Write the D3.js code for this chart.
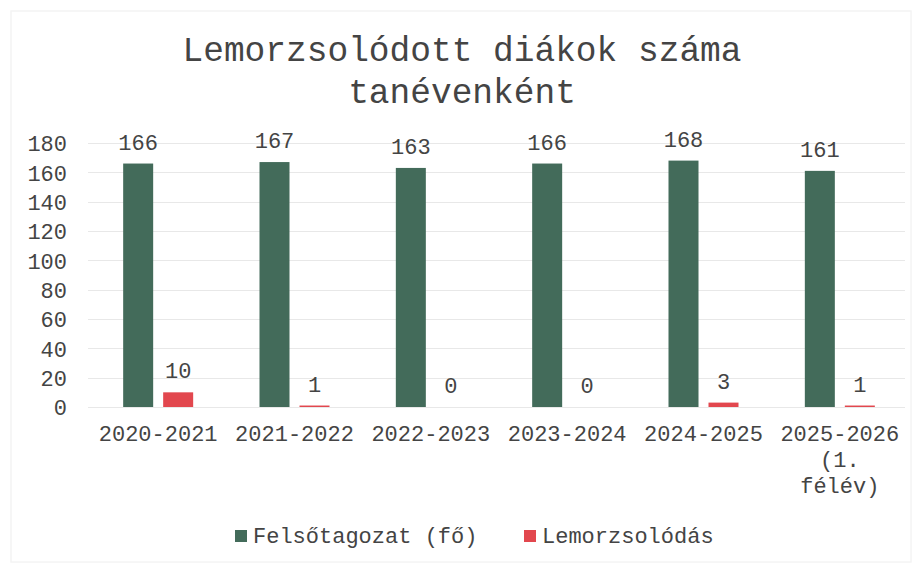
<!DOCTYPE html>
<html>
<head>
<meta charset="utf-8">
<script src="https://cdn.jsdelivr.net/npm/d3@7"></script>
<style>
  html, body { margin: 0; padding: 0; background: #fff; }
  svg { display: block; }
  text { font-family: "Liberation Mono", "Courier New", monospace; fill: #444; }
</style>
</head>
<body>
<svg id="chart" width="922" height="565"></svg>
<script>
const categories = [["2020-2021"], ["2021-2022"], ["2022-2023"], ["2023-2024"], ["2024-2025"], ["2025-2026", "(1.", "félév)"]];
const seriesNames = ["Felsőtagozat (fő)", "Lemorzsolódás"];
const felso = [166, 167, 163, 166, 168, 161];
const lemorz = [10, 1, 0, 0, 3, 1];
const yTicks = [0, 20, 40, 60, 80, 100, 120, 140, 160, 180];
const titleLines = ["Lemorzsolódott diákok száma", "tanévenként"];
const colors = ["#436b5a", "#e2474e"];

const svg = d3.select("#chart");
const W = 922, H = 565;
const m = { left: 90, right: 14, top: 143, bottom: 158 };

svg.append("rect").attr("x", 11).attr("y", 11).attr("width", W - 22).attr("height", H - 14)
  .attr("fill", "none").attr("stroke", "#f4f4f4").attr("stroke-width", 1.5);

svg.append("text").attr("x", 462).attr("text-anchor", "middle")
  .style("font-size", "34.5px")
  .selectAll("tspan").data(titleLines).join("tspan")
  .attr("x", 462).attr("y", (d, i) => 61 + i * 42).text(d => d);

const x = d3.scaleBand().domain(d3.range(categories.length)).range([m.left, W - m.right]);
const y = d3.scaleLinear().domain([0, 180]).range([407, 143]);

const g = svg.append("g");
g.selectAll(".grid").data(yTicks).join("line")
  .attr("x1", m.left - 2).attr("x2", W - m.right - 3)
  .attr("y1", d => Math.round(y(d)) + 0.5).attr("y2", d => Math.round(y(d)) + 0.5)
  .attr("stroke", "#e8e8e8").attr("stroke-width", 1);

const yAxis = d3.axisLeft(y).tickValues(yTicks).tickSize(0).tickPadding(0);
const ya = svg.append("g").attr("transform", "translate(67,0)").call(yAxis);
ya.select(".domain").remove();
ya.selectAll("text").style("font-size", "22px").attr("fill", "#444").attr("dy", "0.36em")
  .style("font-family", "'Liberation Mono', monospace");

const barW = 30, gap = 10;
const series = [felso, lemorz];
series.forEach((vals, s) => {
  const offset = s === 0 ? -(gap / 2 + barW) : gap / 2;
  g.selectAll(".bar" + s).data(vals).join("rect")
    .attr("x", (d, i) => x(i) + x.bandwidth() / 2 + offset)
    .attr("width", barW)
    .attr("y", d => y(d))
    .attr("height", d => y(0) - y(d))
    .attr("fill", colors[s]);
  g.selectAll(".lab" + s).data(vals).join("text")
    .attr("x", (d, i) => x(i) + x.bandwidth() / 2 + offset + barW / 2)
    .attr("y", d => y(d) - 14)
    .attr("text-anchor", "middle")
    .style("font-size", "22px")
    .text(d => d);
});

const xa = svg.append("g");
categories.forEach((lines, i) => {
  const t = xa.append("text").attr("text-anchor", "middle").style("font-size", "22px");
  lines.forEach((ln, j) => {
    t.append("tspan").attr("x", x(i) + x.bandwidth() / 2).attr("y", 441 + j * 26).text(ln);
  });
});

const legX = [235, 524];
const lg = svg.append("g");
seriesNames.forEach((n, i) => {
  lg.append("rect").attr("x", legX[i]).attr("y", 530).attr("width", 12).attr("height", 12).attr("fill", colors[i]);
  lg.append("text").attr("x", legX[i] + 18).attr("y", 543).style("font-size", "22px").text(n);
});
</script>
</body>
</html>
